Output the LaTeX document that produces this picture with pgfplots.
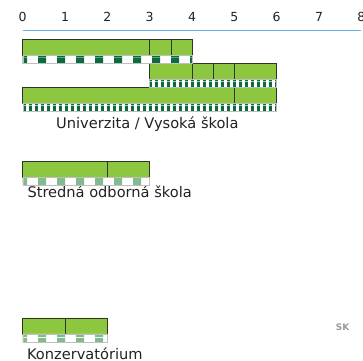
\documentclass[border=0pt]{standalone}
\usepackage{fontspec}
\setmainfont{DejaVu Sans}
\usepackage{pgfplots}
\pgfplotsset{compat=1.18}
\usetikzlibrary{patterns.meta}

\definecolor{barGreen}{RGB}{141,198,63}
\definecolor{darkStripe}{RGB}{10,107,60}
\definecolor{lightStripe}{RGB}{128,188,142}
\definecolor{axisBlue}{RGB}{110,175,230}
\definecolor{edgeGray}{RGB}{45,55,35}
\definecolor{textGray}{RGB}{34,34,34}

% stripe patterns under the bars
\tikzdeclarepattern{name=wideblocks, type=uncolored,
  bounding box={(0pt,0pt) and (19pt,8pt)}, tile size={(19pt,8pt)},
  code={\fill (0pt,0pt) rectangle (8.5pt,8pt);}}
\tikzdeclarepattern{name=thinbars, type=uncolored,
  bounding box={(0pt,0pt) and (5.7pt,8pt)}, tile size={(5.7pt,8pt)},
  code={\fill (0pt,0pt) rectangle (3pt,8pt);}}

\pgfplotsset{
  frame/.style={
    scale only axis, width=338.64pt, height=330pt,
    xmin=0, xmax=8, ymin=0, ymax=330,
    at={(22.7pt,0pt)}, anchor=south west, clip=false,
  },
  seg/.style={fill=barGreen, draw=edgeGray, line width=0.6pt},
  strip/.style={fill=white, draw=black!25, line width=0.4pt},
}

\begin{document}
\begin{tikzpicture}
\begin{axis}[frame,
    xbar stacked, bar width=16,
    axis x line*=top, axis y line=none,
    xtick={0,1,...,8}, major tick length=0pt,
    x axis line style={draw=axisBlue, line width=0.8pt, -},
    x tick label style={font=\fontsize{12.5}{14}\selectfont, text=textGray, anchor=base, yshift=8.3pt},
    /pgf/number format/assume math mode=true,
  ]
  % offset, then segments
  \addplot[draw=none, fill=none] coordinates {(0,313) (3,289) (0,265) (0,191) (0,34.2)};
  \addplot[seg] coordinates {(3,313) (1,289) (5,265) (2,191) (1,34.2)};
  \addplot[seg] coordinates {(0.5,313) (0.5,289) (1,265) (1,191) (1,34.2)};
  \addplot[seg] coordinates {(0.5,313) (0.5,289) (0,265) (0,191) (0,34.2)};
  \addplot[seg] coordinates {(0,313) (1,289) (0,265) (0,191) (0,34.2)};

  \node[anchor=base west, inner sep=0pt, text=textGray, font=\fontsize{14.6}{16}\selectfont]
    at (axis cs:0.787,232) {Univerzita / Vysoká škola};
  \node[anchor=base west, inner sep=0pt, text=textGray, font=\fontsize{14.6}{16}\selectfont]
    at (axis cs:0.109,162.5) {Stredná odborná škola};
  \node[anchor=base west, inner sep=0pt, text=textGray, font=\fontsize{14.6}{16}\selectfont]
    at (axis cs:0.10,1) {Konzervatórium};
  \node[inner sep=0pt, text=black!40, font=\bfseries\fontsize{9}{10}\selectfont]
    at (axis cs:7.555,32.5) {SK};
\end{axis}

\begin{axis}[frame, hide axis, xbar stacked, bar width=8]
  \addplot[draw=none, fill=none] coordinates {(0,301) (3,277) (0,253) (0,179) (0,22.2)};
  \addplot[strip, postaction={pattern=wideblocks, pattern color=darkStripe}]
    coordinates {(4,301) (0,277) (0,253) (0,179) (0,22.2)};
  \addplot[strip, postaction={pattern=thinbars, pattern color=darkStripe}]
    coordinates {(0,301) (3,277) (6,253) (0,179) (0,22.2)};
  \addplot[strip, postaction={pattern=wideblocks, pattern color=lightStripe}]
    coordinates {(0,301) (0,277) (0,253) (3,179) (2,22.2)};
\end{axis}
\pgfresetboundingbox
\useasboundingbox (0,0) rectangle (363pt,360pt);
\end{tikzpicture}
\end{document}
